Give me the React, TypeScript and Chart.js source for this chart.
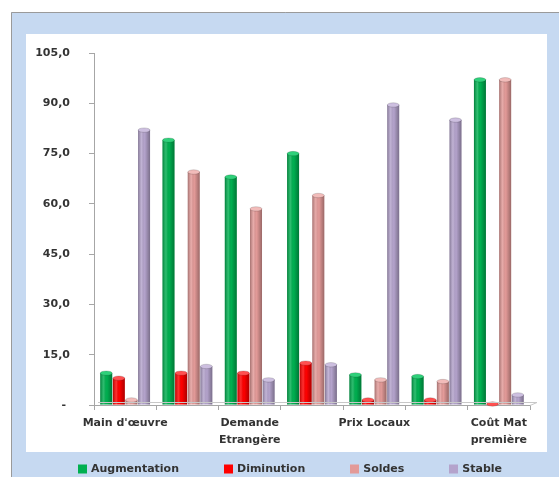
import React, { useEffect, useRef } from "react";
import { Chart, registerables } from "chart.js";

Chart.register(...registerables);

const categories: (string | string[])[] = [
  "Main d'œuvre",
  "",
  ["Demande", "Etrangère"],
  "",
  "Prix Locaux",
  "",
  ["Coût Mat", "première"],
];

const augmentation = [9.5, 79, 68, 75, 9, 8.5, 97];
const diminution = [8, 9.5, 9.5, 12.5, 1.5, 1.5, 0.3];
const soldes = [1.5, 69.5, 58.5, 62.5, 7.5, 7, 97];
const stable = [82, 11.5, 7.5, 12, 89.5, 85, 3];

const yTicks = [0, 15, 30, 45, 60, 75, 90, 105];

const seriesNames = ["Augmentation", "Diminution", "Soldes", "Stable"];
const seriesColors = ["#00b050", "#ff0000", "#e39a98", "#b4a3cc"];
const capColors = ["#2fd07a", "#ff5050", "#f2bcba", "#cdbfe0"];

const FONT = "'DejaVu Sans', sans-serif";

const framePlugin = {
  id: "frame",
  beforeDraw(chart: any) {
    const { ctx, width, height } = chart;
    ctx.save();
    ctx.fillStyle = "#ffffff";
    ctx.fillRect(0, 0, width, height);
    ctx.fillStyle = "#c6d9f1";
    ctx.fillRect(11, 12, width - 11, height - 12);
    ctx.strokeStyle = "#9a9a9a";
    ctx.lineWidth = 1;
    ctx.beginPath();
    ctx.moveTo(11.5, height);
    ctx.lineTo(11.5, 12.5);
    ctx.lineTo(width, 12.5);
    ctx.stroke();
    ctx.fillStyle = "#ffffff";
    ctx.fillRect(26, 34, 547 - 26, 452 - 34);
    ctx.restore();
  },
};

const cylinderPlugin = {
  id: "cylinder",
  afterDatasetsDraw(chart: any) {
    const { ctx } = chart;
    ctx.save();
    chart.data.datasets.forEach((ds: any, di: number) => {
      const meta = chart.getDatasetMeta(di);
      if (meta.hidden) return;
      meta.data.forEach((bar: any) => {
        const { x, y, base, width } = bar.getProps(["x", "y", "base", "width"], true);
        const left = x - width / 2;
        const g = ctx.createLinearGradient(left, 0, left + width, 0);
        g.addColorStop(0, "rgba(0,0,0,0.28)");
        g.addColorStop(0.3, "rgba(255,255,255,0.18)");
        g.addColorStop(0.55, "rgba(0,0,0,0)");
        g.addColorStop(1, "rgba(0,0,0,0.32)");
        ctx.fillStyle = g;
        ctx.fillRect(left, y, width, base - y);
        ctx.beginPath();
        ctx.ellipse(x, y, width / 2, 2.2, 0, 0, Math.PI * 2);
        ctx.fillStyle = capColors[di];
        ctx.fill();
        ctx.strokeStyle = "rgba(0,0,0,0.25)";
        ctx.lineWidth = 0.6;
        ctx.stroke();
      });
    });
    const area = chart.chartArea;
    ctx.strokeStyle = "#c8c8c8";
    ctx.lineWidth = 1;
    ctx.beginPath();
    ctx.moveTo(area.left + 4, area.bottom - 2.5);
    ctx.lineTo(area.right + 7, area.bottom - 2.5);
    ctx.lineTo(area.right, area.bottom + 0.5);
    ctx.stroke();
    ctx.restore();
  },
};

// Legend drawn from the chart's datasets (names + colours), evenly spaced and centred.
const legendPlugin = {
  id: "bottomLegend",
  afterDraw(chart: any) {
    const { ctx } = chart;
    const box = 9;
    const gap = 45;
    const textGap = 4;
    const centerX = 290;
    const cy = 469;
    ctx.save();
    ctx.font = `bold 11px ${FONT}`;
    const items = chart.data.datasets.map((ds: any) => ({
      text: ds.label,
      color: ds.backgroundColor,
      w: box + textGap + ctx.measureText(ds.label).width,
    }));
    const total = items.reduce((s: number, it: any) => s + it.w, 0) + gap * (items.length - 1);
    let x = centerX - total / 2;
    ctx.textBaseline = "middle";
    ctx.textAlign = "left";
    items.forEach((it: any) => {
      ctx.fillStyle = it.color;
      ctx.fillRect(Math.round(x), cy - box / 2, box, box);
      ctx.fillStyle = "#333333";
      ctx.fillText(it.text, x + box + textGap, cy + 0.5);
      x += it.w + gap;
    });
    ctx.restore();
  },
};

export default function App() {
  const ref = useRef<HTMLCanvasElement | null>(null);

  useEffect(() => {
    if (!ref.current) return;
    const all = [augmentation, diminution, soldes, stable];
    const chart = new Chart(ref.current, {
      type: "bar",
      data: {
        labels: categories,
        datasets: all.map((d, i) => ({
          label: seriesNames[i],
          data: d,
          backgroundColor: seriesColors[i],
          borderWidth: 0,
          barPercentage: 0.95,
          categoryPercentage: 0.81,
        })),
      },
      options: {
        animation: false,
        responsive: false,
        maintainAspectRatio: false,
        layout: { padding: { left: 0, right: 29, top: 53, bottom: 0 } },
        plugins: {
          legend: { display: false },
          tooltip: { enabled: false },
        },
        scales: {
          x: {
            grid: {
              display: true,
              drawOnChartArea: false,
              drawTicks: true,
              tickLength: 5,
              color: "#a6a6a6",
              offset: true,
            },
            border: { display: true, color: "#a6a6a6" },
            ticks: {
              autoSkip: false,
              maxRotation: 0,
              padding: 4,
              color: "#333333",
              font: { family: FONT, size: 11, weight: "bold", lineHeight: 1.6 },
            },
            afterFit(scale: any) {
              scale.height = 72;
            },
          },
          y: {
            min: 0,
            max: 105,
            afterBuildTicks(scale: any) {
              scale.ticks = yTicks.map((v) => ({ value: v }));
            },
            grid: {
              display: true,
              drawOnChartArea: false,
              drawTicks: true,
              tickLength: 5,
              color: "#a6a6a6",
            },
            border: { display: true, color: "#a6a6a6" },
            ticks: {
              padding: 19,
              color: "#333333",
              font: { family: FONT, size: 11, weight: "bold" },
              callback: (v: any) =>
                Number(v) === 0 ? "- " : Number(v).toFixed(1).replace(".", ","),
            },
            afterFit(scale: any) {
              scale.width = 94;
            },
          },
        },
      },
      plugins: [framePlugin, cylinderPlugin, legendPlugin],
    } as any);
    return () => chart.destroy();
  }, []);

  return (
    <div style={{ position: "absolute", left: 0, top: 0, width: 559, height: 477 }}>
      <canvas ref={ref} width={559} height={477} style={{ display: "block" }} />
    </div>
  );
}
